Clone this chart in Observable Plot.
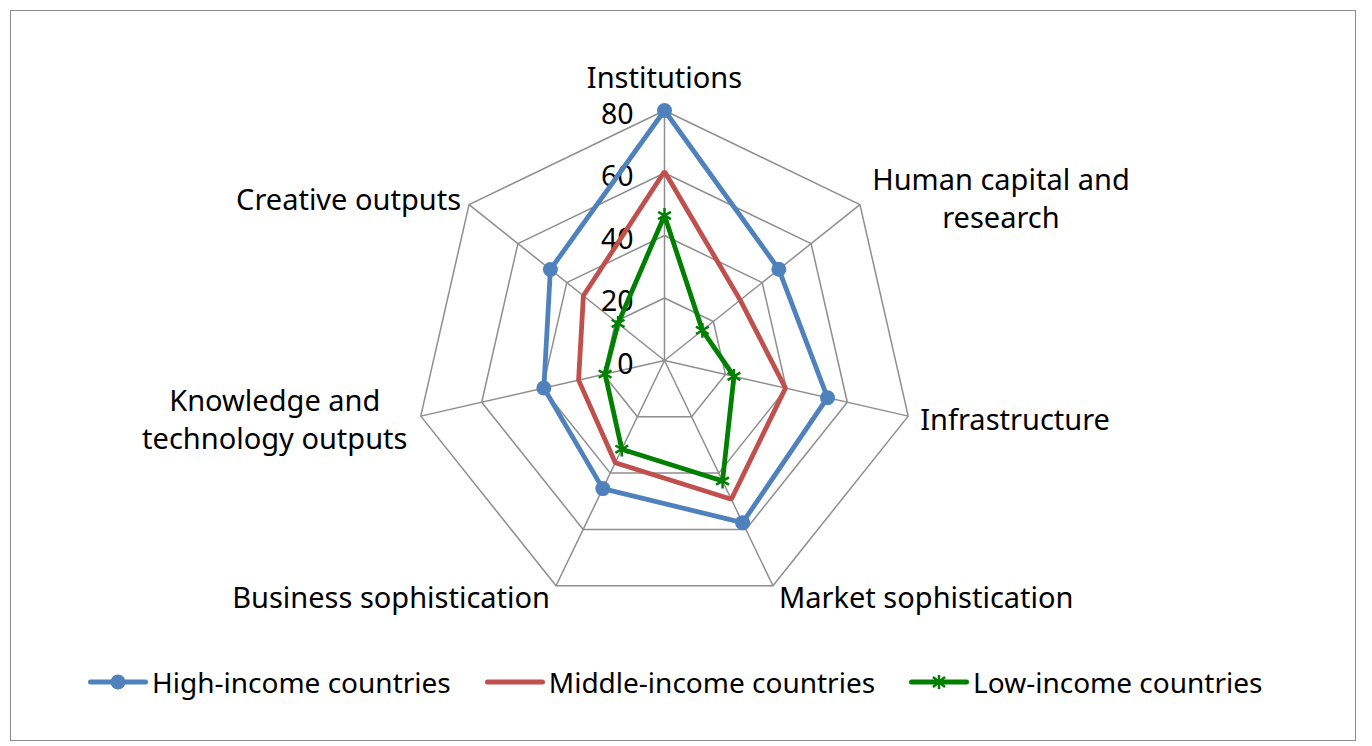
<!DOCTYPE html>
<html><head><meta charset="utf-8">
<script src="https://cdn.jsdelivr.net/npm/d3@7"></script>
<script src="https://cdn.jsdelivr.net/npm/@observablehq/plot@0.6"></script>
<style>
body{margin:0;background:#fff;font-family:"Noto Sans",sans-serif;}
#chart svg{display:block;}
#frame{position:absolute;left:10px;top:10px;width:1344px;height:729px;border:1px solid #8c8c8c;pointer-events:none;}
#legend{display:flex;align-items:center;height:72px;padding-left:88px;gap:34px;font-size:28px;color:#000;}
.item{display:flex;align-items:center;}
.item svg{margin-right:4px;display:block;}
</style></head><body>
<div id="chart"></div>
<div id="legend"></div>
<div id="frame"></div>
<script>
// ---- data ----
const categories = ["Institutions", "Human capital and\nresearch", "Infrastructure", "Market sophistication", "Business sophistication", "Knowledge and\ntechnology outputs", "Creative outputs"];
const highIncome = [80, 46.8, 53.5, 57.6, 45.5, 39.6, 46.7];
const middleIncome = [60.5, 31, 39.7, 49.3, 36.3, 28.2, 33.2];
const lowIncome = [46.4, 15.5, 22.8, 42.8, 31.5, 19.5, 19];
const seriesNames = ["High-income countries", "Middle-income countries", "Low-income countries"];
const tickValues = [0, 20, 40, 60, 80];

// ---- styles / layout ----
const colors = ["#4F81BD", "#C0504D", "#008000"];
const gridColor = "#8e8e8e";
const font = "'Noto Sans', sans-serif";
const W = 1372, H = 646, cx = 664, cy = 360, k = 250 / 80;
const labelFont = 29;
const labelLayout = [
  {anchor: "middle", dx: 0, dy: -35},
  {anchor: "middle", dx: 141, dy: -8},
  {anchor: "start", dx: 12, dy: 2},
  {anchor: "start", dx: 6, dy: 10},
  {anchor: "end", dx: -6, dy: 10},
  {anchor: "middle", dx: -146, dy: 1.5},
  {anchor: "end", dx: -8, dy: -7}
];

const n = categories.length;
const ang = i => 2 * Math.PI * i / n;
const pt = (v, i) => ({x: v * Math.sin(ang(i)), y: v * Math.cos(ang(i))});

const maxTick = tickValues[tickValues.length - 1];
const rings = tickValues.filter(t => t > 0).flatMap(t => categories.map((c, i) => ({ring: t, ...pt(t, i)})));
const spokes = categories.map((c, i) => ({x1: 0, y1: 0, ...pt(maxTick, i)}));
const tickData = tickValues.map(t => ({label: String(t), ...pt(t, 0)}));
const allSeries = [highIncome, middleIncome, lowIncome];
const seriesData = allSeries.map((vals, s) => vals.map((v, i) => ({series: seriesNames[s], ...pt(v, i)})));

const marks = [
  Plot.line(rings, {x: "x", y: "y", z: "ring", curve: "linear-closed", stroke: gridColor, strokeWidth: 1.5}),
  Plot.link(spokes, {x1: "x1", y1: "y1", x2: "x", y2: "y", stroke: gridColor, strokeWidth: 1.5}),
  Plot.text(tickData, {x: "x", y: "y", text: "label", textAnchor: "end", dx: -31, dy: 4, fontSize: 28.5, fill: "#000"})
];
seriesData.forEach((d, s) => {
  marks.push(Plot.line(d, {x: "x", y: "y", curve: "linear-closed", stroke: colors[s], strokeWidth: 4.8, strokeLinejoin: "miter"}));
});
marks.push(Plot.dot(seriesData[0], {x: "x", y: "y", r: 7.5, fill: colors[0]}));
marks.push(Plot.dot(seriesData[2], {x: "x", y: "y", r: 7, symbol: "asterisk", stroke: colors[2], strokeWidth: 2.5}));
categories.forEach((c, i) => {
  const L = labelLayout[i];
  marks.push(Plot.text([{label: c, ...pt(maxTick, i)}], {x: "x", y: "y", text: "label", textAnchor: L.anchor, dx: L.dx, dy: L.dy, fontSize: labelFont, lineHeight: 1.31, fill: "#000"}));
});

const chart = Plot.plot({
  width: W, height: H, margin: 0,
  x: {domain: [-cx / k, (W - cx) / k], axis: null},
  y: {domain: [-(H - cy) / k, cy / k], axis: null},
  style: {fontFamily: font, background: "transparent"},
  marks
});
document.getElementById("chart").append(chart);

// ---- legend ----
const legend = document.getElementById("legend");
seriesNames.forEach((name, s) => {
  const item = document.createElement("div");
  item.className = "item";
  let marker = "";
  if (s === 0) marker = `<circle cx="30" cy="12" r="7.5" fill="${colors[0]}"/>`;
  if (s === 2) marker = `<path d="M30,5V19M24,7L36,17M24,17L36,7" stroke="${colors[2]}" stroke-width="2.5" fill="none"/>`;
  item.innerHTML = `<svg width="60" height="24"><line x1="2.5" x2="57.5" y1="12" y2="12" stroke="${colors[s]}" stroke-width="5" stroke-linecap="round"/>${marker}</svg><span>${name}</span>`;
  legend.append(item);
});
</script>
</body></html>
